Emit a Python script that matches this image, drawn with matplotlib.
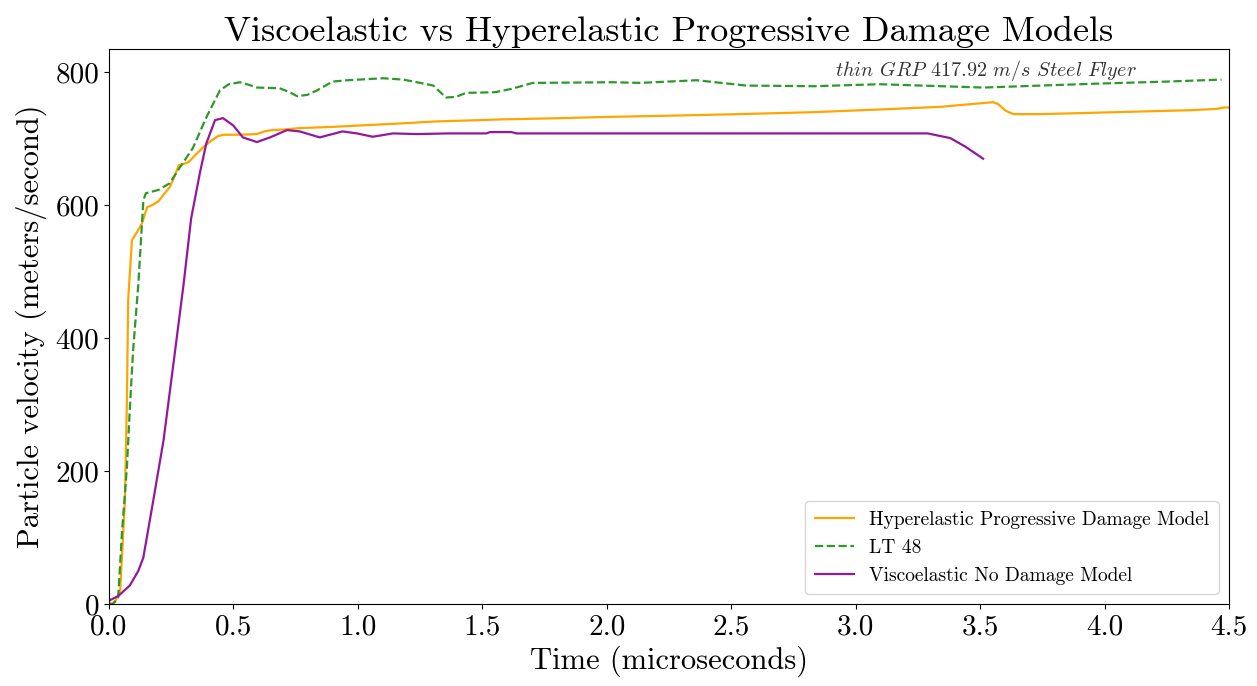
import matplotlib
matplotlib.use("Agg")
import matplotlib.pyplot as plt

plt.rcParams['font.family'] = 'serif'
plt.rcParams['font.serif'] = ['cmr10']
plt.rcParams['mathtext.fontset'] = 'cm'
plt.rcParams['axes.unicode_minus'] = False
plt.rcParams['axes.formatter.use_mathtext'] = True

# Hyperelastic Progressive Damage Model
t_hyper = [0, 0.024, 0.045, 0.064, 0.072, 0.077, 0.092, 0.113, 0.133, 0.153, 0.173, 0.199, 0.224,
           0.244, 0.265, 0.28, 0.30, 0.32, 0.351, 0.378, 0.411, 0.438, 0.462, 0.523, 0.594, 0.624,
           0.655, 0.705, 0.766, 0.908, 1.009, 1.171, 1.313, 1.49, 1.567, 1.82, 2.023, 2.296, 2.529,
           2.833, 3.097, 3.34, 3.553, 3.573, 3.603, 3.634, 3.745, 3.948, 4.15, 4.353, 4.454, 4.48, 4.5]
v_hyper = [0, 3, 21, 156, 307, 457, 547, 560, 573, 597, 600, 606, 618, 627, 645, 660, 662, 665,
           677, 687, 697, 704, 706, 706, 707, 711, 713, 714, 716, 718, 720, 723, 726, 728, 729, 731,
           733, 735, 737, 740, 744, 748, 755, 752, 742, 737, 737, 739, 741, 743, 745, 747, 747]

# LT 48
t_lt = [0, 0.016, 0.037, 0.052, 0.072, 0.084, 0.097, 0.118, 0.138, 0.148, 0.199, 0.244, 0.285,
        0.337, 0.391, 0.446, 0.482, 0.526, 0.563, 0.594, 0.685, 0.726, 0.756, 0.797, 0.837, 0.898,
        0.959, 1.10, 1.182, 1.237, 1.303, 1.354, 1.394, 1.435, 1.551, 1.617, 1.703, 2.023, 2.134,
        2.362, 2.56, 2.833, 3.097, 3.512, 3.745, 3.978, 4.252, 4.47]
v_lt = [0, 0, 10, 107, 206, 296, 382, 482, 607, 618, 623, 633, 657, 686, 732, 773, 782, 785, 781,
        777, 776, 770, 764, 766, 773, 786, 788, 791, 789, 785, 780, 762, 763, 769, 770, 775, 784,
        785, 784, 788, 780, 779, 782, 777, 780, 783, 786, 789]

# Viscoelastic No Damage Model
t_visco = [0, 0.037, 0.084, 0.118, 0.138, 0.178, 0.219, 0.257, 0.30, 0.33, 0.366, 0.391, 0.426,
           0.458, 0.499, 0.538, 0.594, 0.647, 0.715, 0.766, 0.847, 0.938, 0.996, 1.06, 1.141,
           1.237, 1.364, 1.516, 1.531, 1.617, 1.638, 2.023, 2.529, 3.036, 3.289, 3.38, 3.441, 3.512]
v_visco = [5, 12, 28, 50, 70, 156, 246, 356, 482, 580, 650, 693, 728, 731, 720, 702, 695, 702,
           713, 711, 702, 711, 708, 703, 708, 707, 708, 708, 710, 710, 708, 708, 708, 708, 708,
           701, 688, 670]

xticks = [0.0, 0.5, 1.0, 1.5, 2.0, 2.5, 3.0, 3.5, 4.0, 4.5]
yticks = [0, 200, 400, 600, 800]

fig = plt.figure(figsize=(12.57, 6.86), dpi=100)
ax = fig.add_axes([109 / 1257, 82 / 686, (1229 - 109) / 1257, (604 - 49) / 686])

ax.plot(t_hyper, v_hyper, color='orange', lw=1.6, label='Hyperelastic Progressive Damage Model')
ax.plot(t_lt, v_lt, color='#2a9a2a', lw=1.6, ls='--', label='LT 48')
ax.plot(t_visco, v_visco, color='#94189c', lw=1.6, label='Viscoelastic No Damage Model')

ax.set_xlim(0, 4.5)
ax.set_ylim(0, 835)
ax.set_xticks(xticks)
ax.set_xticklabels([f"{x:.1f}" for x in xticks])
ax.set_yticks(yticks)
ax.set_yticklabels([str(y) for y in yticks])
ax.tick_params(labelsize=21)

ax.set_title('Viscoelastic vs Hyperelastic Progressive Damage Models', fontsize=26)
ax.set_xlabel('Time (microseconds)', fontsize=22, labelpad=4)
ax.set_ylabel('Particle velocity (meters/second)', fontsize=22, labelpad=6)

ax.text(2.917, 803,
        r'$\mathit{thin}$ $\mathit{GRP}$ $\mathit{417.92}$ $\mathit{m/s}$ $\mathit{Steel}$ $\mathit{Flyer}$',
        ha='left', va='center', fontsize=14.5, color='#333333')

ax.legend(loc='lower right', fontsize=14, framealpha=0.8, borderpad=0.5)

fig.savefig('out.png', dpi=100)
